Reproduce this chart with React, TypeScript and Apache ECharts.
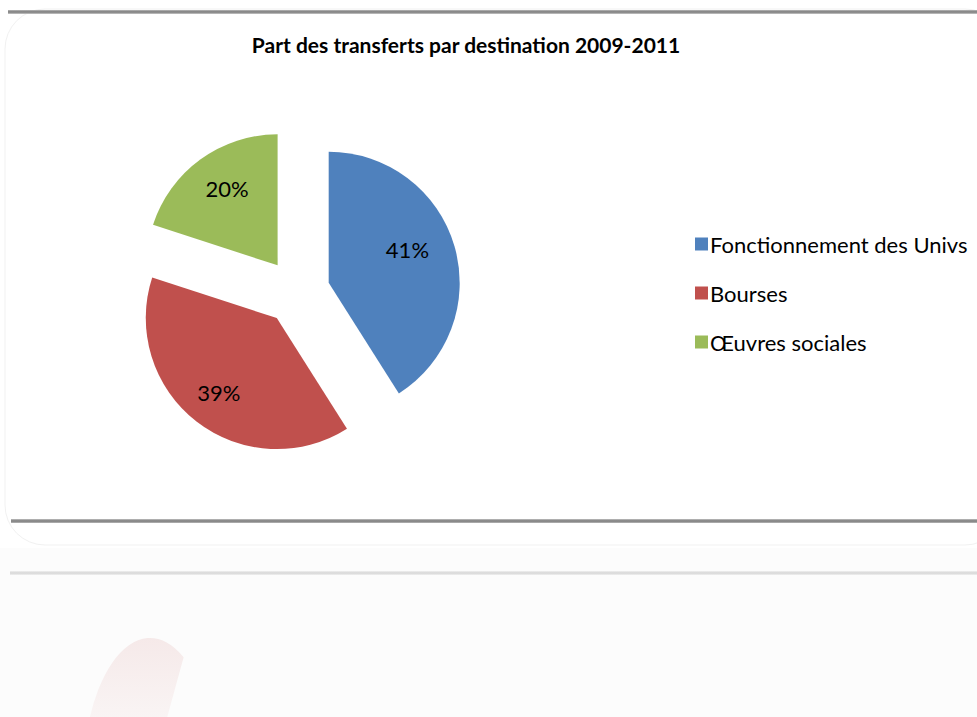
import React, { useEffect, useRef } from "react";
import * as echarts from "echarts";

const categories = ["Fonctionnement des Univs", "Bourses", "Œuvres sociales"];
const shares = [41, 39, 20];
const colors = ["#4F81BD", "#C0504D", "#9BBB59"];
const titleText = "Part des transferts par destination 2009-2011";

export default function App() {
  const ref = useRef<HTMLDivElement>(null);
  useEffect(() => {
    if (!ref.current) return;
    const chart = echarts.init(ref.current, null, { renderer: "svg" });
    const font = "Lato, 'Open Sans', sans-serif";
    const center = [297, 292];
    const R = 131;
    const labelTweaks: Record<number, any> = {
      0: { padding: [0, 24, 0, 0], lineHeight: 14 },
      1: {},
      2: { padding: [0, 0, 0, 10] },
    };
    chart.setOption({
      animation: false,
      backgroundColor: "#ffffff",
      title: {
        text: titleText,
        left: 461,
        top: 29,
        textAlign: "center",
        textStyle: { fontFamily: font, fontWeight: "bold", fontSize: 21, color: "#000" },
      },
      legend: {
        orient: "vertical",
        left: 690,
        top: 228,
        itemWidth: 13,
        itemHeight: 13,
        itemGap: 27,
        icon: "rect",
        selectedMode: false,
        data: categories,
        textStyle: { fontFamily: font, fontSize: 22, color: "#000", padding: [0, 0, 0, -3] },
      },
      graphic: [
        {
          type: "rect",
          shape: { x: 5, y: 9, width: 1000, height: 536, r: 40 },
          style: { fill: "none", stroke: "#f1f1f1", lineWidth: 1 },
          silent: true,
          z: -10,
        },
        {
          type: "rect",
          shape: { x: 0, y: 548, width: 977, height: 169 },
          style: { fill: "#fcfcfc" },
          silent: true,
          z: -10,
        },
        {
          type: "rect",
          shape: { x: 8, y: 10, width: 969, height: 4 },
          style: {
            fill: new echarts.graphic.LinearGradient(0, 0, 0, 1, [
              { offset: 0, color: "#b8b8b8" },
              { offset: 0.5, color: "#7a7a7a" },
              { offset: 1, color: "#c8c8c8" },
            ]),
          },
          silent: true,
        },
        {
          type: "rect",
          shape: { x: 11, y: 519, width: 966, height: 4 },
          style: {
            fill: new echarts.graphic.LinearGradient(0, 0, 0, 1, [
              { offset: 0, color: "#c0c0c0" },
              { offset: 0.5, color: "#7a7a7a" },
              { offset: 1, color: "#b8b8b8" },
            ]),
          },
          silent: true,
        },
        {
          type: "rect",
          shape: { x: 10, y: 571, width: 967, height: 4 },
          style: {
            fill: new echarts.graphic.LinearGradient(0, 0, 0, 1, [
              { offset: 0, color: "#f0f0f0" },
              { offset: 0.5, color: "#d6d6d6" },
              { offset: 1, color: "#f0f0f0" },
            ]),
          },
          silent: true,
        },
        {
          type: "sector",
          x: 150,
          y: 780,
          scaleX: 0.472,
          scaleY: 1,
          shape: { cx: 0, cy: 0, r: 142, r0: 0, startAngle: -Math.PI * 1.05, endAngle: -1.045, clockwise: true },
          style: {
            fill: new echarts.graphic.LinearGradient(0, 0, 0, 1, [
              { offset: 0, color: "rgba(192,80,77,0.11)" },
              { offset: 0.6, color: "rgba(192,80,77,0.03)" },
              { offset: 1, color: "rgba(192,80,77,0)" },
            ]),
          },
          silent: true,
        },
      ],
      series: [
        {
          type: "pie",
          center,
          radius: R,
          startAngle: 90,
          clockwise: true,
          selectedMode: "multiple",
          selectedOffset: 33,
          silent: true,
          label: { show: false },
          labelLine: { show: false },
          itemStyle: { borderWidth: 0 },
          emphasis: { disabled: true },
          data: categories.map((name, i) => ({
            name,
            value: shares[i],
            selected: true,
            itemStyle: { color: colors[i] },
          })),
        },
        {
          type: "pie",
          center,
          radius: [52, R],
          startAngle: 90,
          clockwise: true,
          selectedMode: "multiple",
          selectedOffset: 33,
          silent: true,
          legendHoverLink: false,
          labelLine: { show: false },
          itemStyle: { color: "rgba(0,0,0,0)", borderWidth: 0 },
          emphasis: { disabled: true },
          label: {
            show: true,
            position: "inside",
            formatter: (p: any) => p.value + "%" + (p.dataIndex === 0 ? "\n " : ""),
            fontFamily: font,
            fontSize: 22,
            color: "#000",
          },
          data: categories.map((name, i) => ({
            name: name + " ",
            value: shares[i],
            selected: true,
            label: labelTweaks[i],
          })),
        },
      ],
    });
    return () => chart.dispose();
  }, []);
  return (
    <div
      ref={ref}
      style={{ position: "fixed", left: 0, top: 0, width: 977, height: 717 }}
    />
  );
}
